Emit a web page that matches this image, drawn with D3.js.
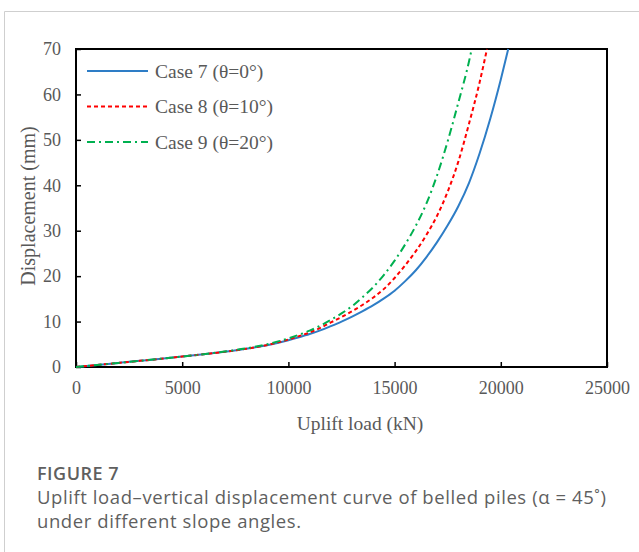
<!DOCTYPE html>
<html lang="en">
<head>
  <meta charset="UTF-8">
  <title>Uplift load - displacement</title>
  <script src="https://d3js.org/d3.v7.min.js"></script>
  <style>
    body {
      margin: 0;
      background: #fff;
    }
    svg text.serif {
      font-family: "Liberation Serif", "Times New Roman", serif;
      fill: #595959;
    }
    .caption {
      font-family: "Open Sans", sans-serif;
      fill: #5f5f5f;
    }
  </style>
</head>
<body>
  <div id="chart"></div>

  <script>
    // load (kN) and displacement (mm)
    const load7 = [0, 1000, 2000, 3000, 4000, 5000, 6000, 7000, 8000, 9000, 10000, 10500, 11000, 11500, 12000, 12500, 13000, 13500, 14000, 14500, 15000, 15500, 16000, 16500, 17000, 17500, 18000, 18500, 19000, 19500, 20000, 20350];
    const disp7 = [0, 0.45, 0.9, 1.35, 1.8, 2.3, 2.8, 3.35, 4.0, 4.8, 5.9, 6.55, 7.25, 8.05, 9.0, 10.0, 11.1, 12.3, 13.6, 15.1, 16.8, 18.9, 21.3, 24.2, 27.5, 31.2, 35.4, 40.5, 47.0, 54.6, 63.3, 70];

    const load8 = [0, 1000, 2000, 3000, 4000, 5000, 6000, 7000, 8000, 9000, 10000, 10500, 11000, 11500, 12000, 12500, 13000, 13500, 14000, 14500, 15000, 15500, 16000, 16500, 17000, 17500, 18000, 18500, 19000, 19350];
    const disp8 = [0, 0.45, 0.9, 1.35, 1.8, 2.3, 2.8, 3.35, 4.0, 4.85, 6.05, 6.8, 7.6, 8.6, 9.8, 11.0, 12.3, 13.7, 15.3, 17.2, 19.6, 22.4, 25.5, 29.1, 33.3, 38.6, 45.2, 53.5, 62.6, 70];

    const load9 = [0, 1000, 2000, 3000, 4000, 5000, 6000, 7000, 8000, 9000, 10000, 10500, 11000, 11500, 12000, 12500, 13000, 13500, 14000, 14500, 15000, 15500, 16000, 16500, 17000, 17500, 18000, 18500, 18630];
    const disp9 = [0, 0.45, 0.9, 1.35, 1.8, 2.3, 2.8, 3.4, 4.1, 5.0, 6.3, 7.1, 8.0, 9.1, 10.4, 11.8, 13.4, 15.4, 17.6, 20.3, 23.4, 27.0, 31.1, 36.0, 42.2, 49.7, 58.2, 67.2, 70];

    const seriesNames = ["Case 7 (θ=0°)", "Case 8 (θ=10°)", "Case 9 (θ=20°)"];
    const xTicks = [0, 5000, 10000, 15000, 20000, 25000];
    const yTicks = [0, 10, 20, 30, 40, 50, 60, 70];

    const series = [
      {name: seriesNames[0], x: load7, y: disp7, color: "#2e7dc6", dash: null},
      {name: seriesNames[1], x: load8, y: disp8, color: "#ff0000", dash: "4,3"},
      {name: seriesNames[2], x: load9, y: disp9, color: "#00b050", dash: "8,4,2,4"}
    ];

    const W = 639, H = 552;
    const margin = {top: 49, left: 76},
          width = 531,
          height = 318;

    const svg = d3.select("#chart").append("svg")
      .attr("width", W)
      .attr("height", H);

    // card frame
    svg.append("path")
      .attr("d", `M4.5,${H} V11.5 H${W}`)
      .attr("fill", "none")
      .attr("stroke", "#cfcfcf")
      .attr("stroke-width", 1);

    const g = svg.append("g")
      .attr("transform", `translate(${margin.left},${margin.top})`);

    const x = d3.scaleLinear().domain([0, 25000]).range([0, width]);
    const y = d3.scaleLinear().domain([0, 70]).range([height, 0]);

    // ticks inside
    const xAxis = d3.axisBottom(x).tickValues(xTicks).tickFormat(d3.format("d"))
      .tickSizeInner(-5).tickSizeOuter(0).tickPadding(14);
    const yAxis = d3.axisLeft(y).tickValues(yTicks).tickFormat(d3.format("d"))
      .tickSizeInner(-5).tickSizeOuter(0).tickPadding(15);

    const gx = g.append("g").attr("transform", `translate(0,${height})`).call(xAxis);
    const gy = g.append("g").call(yAxis);

    [gx, gy].forEach(a => {
      a.select(".domain").remove();
      a.selectAll("line").attr("stroke", "#000").attr("stroke-width", 1.5);
      a.selectAll("text")
        .attr("class", "serif")
        .style("font-size", "18px");
    });

    // plot frame
    g.append("rect")
      .attr("width", width)
      .attr("height", height)
      .attr("fill", "none")
      .attr("stroke", "#000")
      .attr("stroke-width", 2);

    const line = d3.line()
      .x(d => x(d[0]))
      .y(d => y(d[1]))
      .curve(d3.curveMonotoneX);

    series.forEach(s => {
      g.append("path")
        .datum(s.x.map((v, i) => [v, s.y[i]]))
        .attr("d", line)
        .attr("fill", "none")
        .attr("stroke", s.color)
        .attr("stroke-width", 2)
        .attr("stroke-dasharray", s.dash);
    });

    // legend
    const legend = g.append("g").attr("transform", "translate(11,22)");
    series.forEach((s, i) => {
      const row = legend.append("g").attr("transform", `translate(0,${i * 35.5})`);
      row.append("line")
        .attr("x1", 0).attr("x2", 61)
        .attr("stroke", s.color)
        .attr("stroke-width", 2)
        .attr("stroke-dasharray", s.dash);
      row.append("text")
        .attr("class", "serif")
        .attr("x", 68)
        .attr("y", 6.5)
        .style("font-size", "19.5px")
        .text(s.name);
    });

    // axis titles
    svg.append("text")
      .attr("class", "serif")
      .attr("x", 360)
      .attr("y", 430)
      .attr("text-anchor", "middle")
      .style("font-size", "19.5px")
      .text("Uplift load (kN)");

    svg.append("text")
      .attr("class", "serif")
      .attr("transform", `translate(35,${margin.top + height / 2 - 2}) rotate(-90)`)
      .attr("text-anchor", "middle")
      .style("font-size", "20px")
      .text("Displacement (mm)");

    // caption
    svg.append("text")
      .attr("class", "caption")
      .attr("x", 37)
      .attr("y", 480)
      .style("font-size", "18px")
      .style("font-weight", "600")
      .style("letter-spacing", "0.5px")
      .text("FIGURE 7");

    svg.append("text")
      .attr("class", "caption")
      .attr("x", 37)
      .attr("y", 504)
      .style("font-size", "18.5px")
      .style("letter-spacing", "0.58px")
      .text("Uplift load\u2013vertical displacement curve of belled piles (\u03b1 = 45\u02da)");

    svg.append("text")
      .attr("class", "caption")
      .attr("x", 37)
      .attr("y", 528)
      .style("font-size", "18.5px")
      .style("letter-spacing", "0.58px")
      .text("under different slope angles.");
  </script>
</body>
</html>
